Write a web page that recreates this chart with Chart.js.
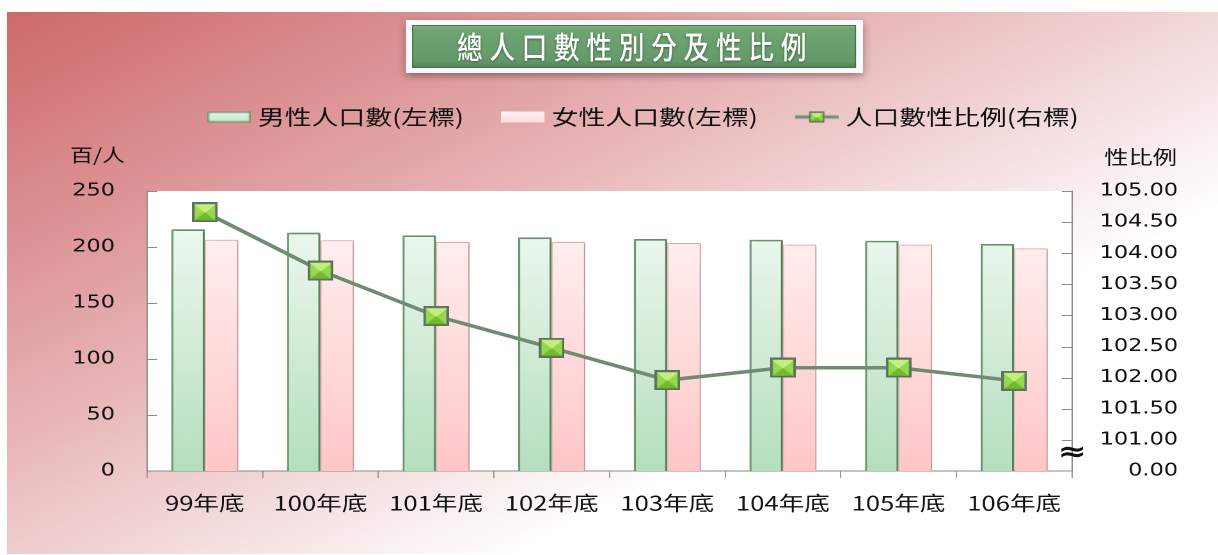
<!DOCTYPE html>
<html><head><meta charset="utf-8">
<script src="https://cdn.jsdelivr.net/npm/chart.js@4.4.1/dist/chart.umd.min.js"></script>
<style>
html,body{margin:0;padding:0;background:#fff;overflow:hidden;width:1218px;height:555px;}
#wrap{position:absolute;left:0;top:0;width:952px;height:555px;transform:scale(1.279412,1);transform-origin:0 0;}
</style></head><body>
<div id="wrap"><canvas id="c"></canvas></div>
<script>
// ---- data ----
const categories = ['99年底','100年底','101年底','102年底','103年底','104年底','105年底','106年底'];
const maleValues = [215.8, 212.8, 210.4, 208.6, 207.1, 206.5, 205.6, 202.7];
const femaleValues = [206.5, 206.0, 204.5, 204.5, 203.6, 202.1, 202.1, 198.8];
const ratioValues = [104.66, 103.72, 102.99, 102.48, 101.96, 102.16, 102.16, 101.95];
const leftTicks = [0, 50, 100, 150, 200, 250];
const rightTicks = [100.5, 101, 101.5, 102, 102.5, 103, 103.5, 104, 104.5, 105];
const rightTickLabels = ['0.00','101.00','101.50','102.00','102.50','103.00','103.50','104.00','104.50','105.00'];
const seriesNames = ['男性人口數(左標)', '女性人口數(左標)', '人口數性比例(右標)'];
const chartTitle = '總人口數性別分及性比例';
const leftAxisTitle = '百/人';
const rightAxisTitle = '性比例';
const breakSymbol = '≈';

const CJK = '"Noto Sans CJK TC", "Noto Sans CJK SC", sans-serif';
Chart.defaults.font.family = CJK;
Chart.defaults.color = '#111';

function makeMarker(w, h) {
  const c = document.createElement('canvas'); c.width = w; c.height = h;
  drawMarker(c.getContext('2d'), 0, 0, w, h);
  return c;
}
function drawMarker(x, ox, oy, w, h) {
  x.fillStyle = '#5d725d'; x.fillRect(ox, oy, w, h);
  const b = Math.max(1.5, w * 0.1);
  const L = ox + b, T = oy + b, R = ox + w - b, B = oy + h - b, cx = ox + w / 2, cy = oy + h / 2;
  const tri = (a1, a2, b1, b2, c1, c2) => { x.beginPath(); x.moveTo(a1, a2); x.lineTo(b1, b2); x.lineTo(c1, c2); x.closePath(); x.fill(); };
  x.fillStyle = '#8fd344'; x.fillRect(L, T, R - L, B - T);
  x.fillStyle = '#c2ef7c'; tri(L, T, R, T, cx, cy);
  x.fillStyle = '#74b832'; tri(L, B, R, B, cx, cy);
  x.fillStyle = '#97d94e'; tri(L, T, L, B, cx, cy); tri(R, T, R, B, cx, cy);
  x.strokeStyle = 'rgba(235,255,190,0.85)'; x.lineWidth = 0.8;
  x.beginPath(); x.moveTo(L, T); x.lineTo(cx, cy); x.lineTo(R, T); x.stroke();
}
const chartMarker = makeMarker(20, 20);

function legendBar(fillTop, fillBottom, stroke) {
  const c = document.createElement('canvas'); c.width = 34; c.height = 11;
  const x = c.getContext('2d');
  const g = x.createLinearGradient(0, 0, 0, 11);
  g.addColorStop(0, fillTop); g.addColorStop(1, fillBottom);
  x.fillStyle = g; x.fillRect(0, 0, 34, 11);
  if (stroke) { x.strokeStyle = stroke; x.lineWidth = 1.4; x.strokeRect(0.7, 0.7, 32.6, 9.6); }
  return c;
}
function legendLine() {
  const c = document.createElement('canvas'); c.width = 34; c.height = 12;
  const x = c.getContext('2d');
  x.strokeStyle = '#6f8c70'; x.lineWidth = 3;
  x.beginPath(); x.moveTo(0, 6); x.lineTo(34, 6); x.stroke();
  drawMarker(x, 11, 0.5, 12, 11);
  return c;
}
const legendIcons = [
  legendBar('#e4f4e7', '#c6e8cc', '#6c9c70'),
  legendBar('#fff2f3', '#fddbdc', null),
  legendLine()
];

const S = 1218 / 952;
const PLOT_LEFT = 147 / S, PLOT_RIGHT = 1072 / S, RIGHT_LABEL_EDGE = 1178 / S;
const PAD_LEFT = 52;
const PAD_RIGHT = 952 - RIGHT_LABEL_EDGE;
const LEGEND_CENTER = 505;

const decorPlugin = {
  id: 'decor',
  afterLayout(chart) {
    const lg = chart.legend;
    if (lg) {
      const d = LEGEND_CENTER - (lg.left + lg.right) / 2;
      lg.left += d; lg.right += d;
    }
  },
  beforeDraw(chart) {
    const {ctx, width, height} = chart;
    const dpr = chart.currentDevicePixelRatio || 1;
    ctx.save();
    ctx.fillStyle = '#fff'; ctx.fillRect(0, 0, width, height);
    const g = ctx.createLinearGradient(0, 0, 367, 578);
    g.addColorStop(0, 'rgb(205,102,104)');
    g.addColorStop(0.55, 'rgb(232,182,184)');
    g.addColorStop(1, 'rgb(255,255,255)');
    ctx.fillStyle = g;
    ctx.fillRect(7 / S, 12, width - 7 / S, 542);
    const a = chart.chartArea;
    ctx.fillStyle = '#fff';
    ctx.fillRect(a.left, a.top, a.right - a.left, a.bottom - a.top);

    // title box
    const oL = 406 / S, oR = 863 / S, oT = 20, oB = 73;
    ctx.shadowColor = 'rgba(60,20,20,0.45)'; ctx.shadowBlur = 7 * dpr; ctx.shadowOffsetY = 3 * dpr;
    ctx.fillStyle = '#fbfbfb'; ctx.fillRect(oL, oT, oR - oL, oB - oT);
    ctx.shadowColor = 'transparent'; ctx.shadowBlur = 0; ctx.shadowOffsetY = 0;
    const iL = 412 / S, iR = 856 / S, iT = 25, iB = 68;
    const gg = ctx.createLinearGradient(0, iT, 0, iB);
    gg.addColorStop(0, '#7fb283'); gg.addColorStop(0.12, '#6fa473'); gg.addColorStop(0.85, '#64996a'); gg.addColorStop(1, '#4f7f54');
    ctx.fillStyle = gg; ctx.fillRect(iL, iT, iR - iL, iB - iT);
    ctx.strokeStyle = 'rgba(70,110,75,0.9)'; ctx.lineWidth = 1;
    ctx.strokeRect(iL + 0.5, iT + 0.5, iR - iL - 1, iB - iT - 1);

    // title text (condensed look: vertically scaled)
    ctx.save();
    ctx.font = '500 20px ' + CJK;
    ctx.textBaseline = 'middle'; ctx.textAlign = 'left';
    ctx.fillStyle = '#ffffff';
    ctx.shadowColor = 'rgba(30,60,30,0.6)'; ctx.shadowBlur = 2 * dpr; ctx.shadowOffsetY = 1 * dpr;
    const chars = Array.from(chartTitle);
    const pitch = 25.3;
    const startX = 457 / S;
    ctx.translate(startX, 47);
    ctx.scale(1, 1.55);
    if ('letterSpacing' in ctx) {
      ctx.letterSpacing = (pitch - 20) + 'px';
      ctx.fillText(chartTitle, 0, 0);
    } else {
      chars.forEach((ch, i) => ctx.fillText(ch, i * pitch, 0));
    }
    ctx.restore();

    // axis titles
    ctx.fillStyle = '#111';
    ctx.textBaseline = 'middle';
    ctx.font = '18px ' + CJK;
    ctx.textAlign = 'left';
    ctx.fillText(leftAxisTitle, 70 / S, 155);
    ctx.font = '19px ' + CJK;
    ctx.textAlign = 'right';
    ctx.fillText(rightAxisTitle, 1177 / S, 157);
    ctx.restore();
  },
  beforeDatasetDraw(chart, args) {
    if (args.meta.type !== 'bar') return;
    const ctx = chart.ctx; const dpr = chart.currentDevicePixelRatio || 1;
    ctx.save();
    ctx.shadowColor = 'rgba(0,0,0,0.22)'; ctx.shadowBlur = 3 * dpr; ctx.shadowOffsetX = 2 * dpr; ctx.shadowOffsetY = 0;
  },
  afterDatasetDraw(chart, args) {
    if (args.meta.type !== 'bar') return;
    chart.ctx.restore();
  },
  afterDraw(chart) {
    const {ctx, chartArea: a} = chart;
    const yl = chart.scales.y, yr = chart.scales.y1;
    ctx.save();
    ctx.strokeStyle = '#8c8c8c'; ctx.lineWidth = 1;
    ctx.beginPath();
    yl.ticks.forEach(t => { if (t.value === 0) return; const py = Math.round(yl.getPixelForValue(t.value)) + 0.5; ctx.moveTo(a.left, py); ctx.lineTo(a.left + 8, py); });
    yr.ticks.forEach(t => { if (t.value === 100.5) return; const py = Math.round(yr.getPixelForValue(t.value)) + 0.5; ctx.moveTo(a.right - 8, py); ctx.lineTo(a.right, py); });
    ctx.stroke();
    // axis break mark
    ctx.fillStyle = '#111';
    ctx.font = 'bold 27px "DejaVu Sans", sans-serif';
    ctx.textAlign = 'center'; ctx.textBaseline = 'middle';
    ctx.fillText(breakSymbol, a.right, yr.getPixelForValue(100.78));
    ctx.restore();
  }
};

function barGradient(top, bottom) {
  return (c) => {
    const ch = c.chart; const a = ch.chartArea;
    if (!a) return bottom;
    const g = ch.ctx.createLinearGradient(0, a.top + 35, 0, a.bottom);
    g.addColorStop(0, top); g.addColorStop(1, bottom);
    return g;
  };
}

new Chart(document.getElementById('c'), {
  data: {
    labels: categories,
    datasets: [
      { type: 'bar', label: seriesNames[0], data: maleValues, yAxisID: 'y', order: 1,
        backgroundColor: barGradient('#eef8f0', '#b4dfbd'), borderColor: '#6c9a70', borderWidth: 1.7,
        categoryPercentage: 0.58, barPercentage: 1.0 },
      { type: 'bar', label: seriesNames[1], data: femaleValues, yAxisID: 'y', order: 1,
        backgroundColor: barGradient('#fff1f1', '#ffc6c7'), borderColor: '#f1b9ba', borderWidth: 1,
        categoryPercentage: 0.58, barPercentage: 1.0 },
      { type: 'line', label: seriesNames[2], data: ratioValues, yAxisID: 'y1', order: 0,
        borderColor: '#6f8c70', borderWidth: 3.5, pointStyle: chartMarker, pointRadius: 10, pointHoverRadius: 10,
        tension: 0, fill: false }
    ]
  },
  options: {
    responsive: true, maintainAspectRatio: false, animation: false, devicePixelRatio: 2,
    layout: { padding: { top: 72.5, left: PAD_LEFT, right: PAD_RIGHT, bottom: 0 } },
    plugins: {
      title: { display: false },
      subtitle: { display: true, text: '', position: 'top', weight: 500, fullSize: true,
        font: { size: 10 }, padding: { top: 0, bottom: 41.5 } },
      tooltip: { enabled: false },
      legend: {
        display: true, position: 'top', align: 'center',
        labels: {
          usePointStyle: true, pointStyleWidth: 24, boxHeight: 12, padding: 34,
          color: '#111', font: { size: 21, family: CJK },
          generateLabels: (chart) => {
            const items = Chart.defaults.plugins.legend.labels.generateLabels(chart);
            items.sort((p, q) => p.datasetIndex - q.datasetIndex);
            items.forEach(it => { it.pointStyle = legendIcons[it.datasetIndex]; it.lineWidth = 0; it.strokeStyle = 'rgba(0,0,0,0)'; it.fillStyle = 'rgba(0,0,0,0)'; });
            return items;
          }
        }
      }
    },
    scales: {
      x: {
        type: 'category', offset: true,
        afterFit: s => { s.height = 84; },
        grid: { display: true, drawOnChartArea: false, offset: true, tickLength: 7, color: '#9a9a9a' },
        border: { display: true, color: '#8c8c8c', width: 1 },
        ticks: { padding: 13, color: '#111', font: { size: 20, family: CJK }, maxRotation: 0, autoSkip: false }
      },
      y: {
        type: 'linear', position: 'left', min: 0, max: 250,
        afterBuildTicks: s => { s.ticks = leftTicks.map(v => ({ value: v })); },
        afterFit: s => { s.width = PLOT_LEFT - PAD_LEFT; },
        grid: { display: false, drawTicks: false },
        border: { display: true, color: '#8c8c8c', width: 1 },
        ticks: { padding: 25, color: '#111', font: { size: 17.5, family: '"DejaVu Sans", sans-serif' },
          callback: (v) => String(v) }
      },
      y1: {
        type: 'linear', position: 'right', min: 100.5, max: 105,
        afterBuildTicks: s => { s.ticks = rightTicks.map(v => ({ value: v })); },
        afterFit: s => { s.width = RIGHT_LABEL_EDGE - PLOT_RIGHT; },
        grid: { display: false, drawTicks: false },
        border: { display: true, color: '#8c8c8c', width: 1 },
        ticks: { padding: 20, crossAlign: 'far', color: '#111', font: { size: 17.5, family: '"DejaVu Sans", sans-serif' },
          callback: (v) => { const i = rightTicks.indexOf(v); return i >= 0 ? rightTickLabels[i] : ''; } }
      }
    }
  },
  plugins: [decorPlugin]
});
</script>
</body></html>
